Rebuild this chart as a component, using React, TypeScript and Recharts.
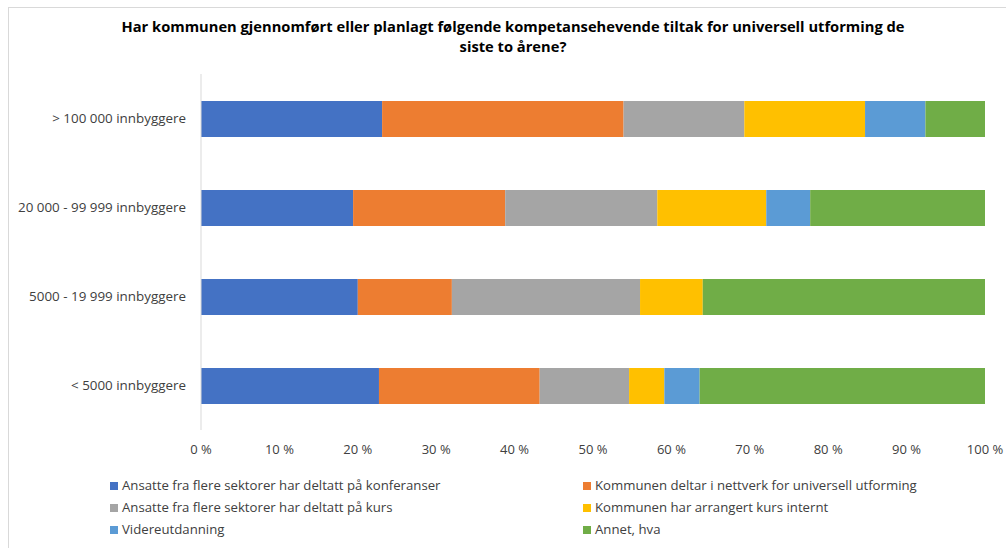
import React from 'react';
import { BarChart, Bar, XAxis, YAxis } from 'recharts';

// Share of answers per municipality size (percent)
const categories = [
  '> 100 000 innbyggere',
  '20 000 - 99 999 innbyggere',
  '5000 - 19 999 innbyggere',
  '< 5000 innbyggere',
];

const konferanser = [23.1, 19.4, 20.0, 22.7];
const nettverk = [30.8, 19.4, 12.0, 20.5];
const kurs = [15.4, 19.4, 24.0, 11.4];
const internt = [15.4, 13.9, 8.0, 4.5];
const videre = [7.7, 5.6, 0, 4.5];
const annet = [7.6, 22.3, 36.0, 36.4];

const xTicks = [0, 10, 20, 30, 40, 50, 60, 70, 80, 90, 100];

const seriesDefs = [
  { key: 'konferanser', name: 'Ansatte fra flere sektorer har deltatt på konferanser', color: '#4472C4' },
  { key: 'nettverk', name: 'Kommunen deltar i nettverk for universell utforming', color: '#ED7D31' },
  { key: 'kurs', name: 'Ansatte fra flere sektorer har deltatt på kurs', color: '#A5A5A5' },
  { key: 'internt', name: 'Kommunen har arrangert kurs internt', color: '#FFC000' },
  { key: 'videre', name: 'Videreutdanning', color: '#5B9BD5' },
  { key: 'annet', name: 'Annet, hva', color: '#70AD47' },
];

const data = categories.map((name, i) => ({
  name,
  konferanser: konferanser[i],
  nettverk: nettverk[i],
  kurs: kurs[i],
  internt: internt[i],
  videre: videre[i],
  annet: annet[i],
}));

const FONT = '"Open Sans", sans-serif';

export default function App() {
  return (
    <div style={{ position: 'absolute', left: 0, top: 0, width: 1006, height: 548, overflow: 'hidden', background: '#fff', fontFamily: FONT }}>
      {/* chart frame */}
      <div style={{ position: 'absolute', left: 8, top: 7, width: 1010, height: 560, border: '1px solid #d9d9d9' }} />
      <div
        style={{
          position: 'absolute',
          left: 0,
          top: 16,
          width: 1026,
          textAlign: 'center',
          fontWeight: 'bold',
          fontSize: 14.7,
          lineHeight: '20px',
          color: '#000',
        }}
      >
        Har kommunen gjennomført eller planlagt følgende kompetansehevende tiltak for universell utforming de
        <br />
        siste to årene?
      </div>
      <div style={{ position: 'absolute', left: 0, top: 0 }}>
        <BarChart
          width={1006}
          height={548}
          data={data}
          layout="vertical"
          margin={{ top: 74, right: 21, left: 0, bottom: 86 }}
          barSize={36}
        >
          <XAxis
            type="number"
            domain={[0, 100]}
            ticks={xTicks}
            allowDataOverflow
            axisLine={false}
            tickLine={false}
            tickSize={0}
            tickMargin={15}
            height={32}
            interval={0}
            tickFormatter={(v: number) => `${v} %`}
            tick={{ fill: '#404040', fontSize: 13, fontFamily: FONT }}
          />
          <YAxis
            type="category"
            dataKey="name"
            width={201}
            axisLine={{ stroke: '#d9d9d9' }}
            tickLine={false}
            tickSize={0}
            tickMargin={15}
            tick={{ fill: '#404040', fontSize: 13.4, fontFamily: FONT }}
          />
          {seriesDefs.map((s) => (
            <Bar key={s.key} dataKey={s.key} name={s.name} stackId="a" fill={s.color} isAnimationActive={false} />
          ))}
        </BarChart>
      </div>
      {/* legend */}
      <div
        style={{
          position: 'absolute',
          left: 110,
          top: 476,
          display: 'grid',
          gridTemplateColumns: '473px 400px',
          rowGap: 3,
          fontSize: 13.2,
          lineHeight: '19px',
          color: '#404040',
        }}
      >
        {seriesDefs.map((s) => (
          <div key={s.key} style={{ display: 'flex', alignItems: 'center' }}>
            <span style={{ display: 'inline-block', width: 8, height: 8, background: s.color, marginRight: 4 }} />
            {s.name}
          </div>
        ))}
      </div>
    </div>
  );
}
